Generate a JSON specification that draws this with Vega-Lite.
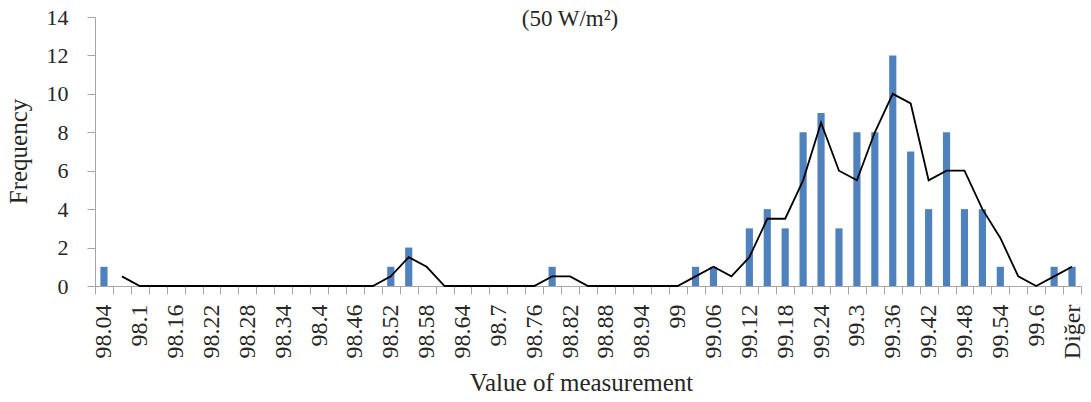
{
  "$schema": "https://vega.github.io/schema/vega-lite/v6.json",
  "width": 986,
  "height": 269,
  "autosize": {"type": "none"},
  "padding": {"left": 95, "top": 17, "right": 10, "bottom": 116},
  "background": "white",
  "config": {
    "view": {"stroke": null},
    "font": "Liberation Serif",
    "axis": {"labelFont": "Liberation Serif", "titleFont": "Liberation Serif", "labelColor": "#262626", "titleColor": "#262626", "titleFontWeight": "normal", "domainColor": "#A6A6A6", "tickColor": "#A6A6A6", "grid": false, "labelOverlap": false}
  },
  "title": {
    "text": "(50 W/m²)",
    "font": "Liberation Serif",
    "fontSize": 23,
    "fontWeight": "normal",
    "color": "#262626",
    "anchor": "middle",
    "frame": "group",
    "dx": -18,
    "offset": -25
  },
  "data": {
    "values": [
      {"c": "98.04", "f": 1, "ma": null},
      {"c": "98.07", "f": 0, "ma": 0.5},
      {"c": "98.1", "f": 0, "ma": 0},
      {"c": "98.13", "f": 0, "ma": 0},
      {"c": "98.16", "f": 0, "ma": 0},
      {"c": "98.19", "f": 0, "ma": 0},
      {"c": "98.22", "f": 0, "ma": 0},
      {"c": "98.25", "f": 0, "ma": 0},
      {"c": "98.28", "f": 0, "ma": 0},
      {"c": "98.31", "f": 0, "ma": 0},
      {"c": "98.34", "f": 0, "ma": 0},
      {"c": "98.37", "f": 0, "ma": 0},
      {"c": "98.4", "f": 0, "ma": 0},
      {"c": "98.43", "f": 0, "ma": 0},
      {"c": "98.46", "f": 0, "ma": 0},
      {"c": "98.49", "f": 0, "ma": 0},
      {"c": "98.52", "f": 1, "ma": 0.5},
      {"c": "98.55", "f": 2, "ma": 1.5},
      {"c": "98.58", "f": 0, "ma": 1},
      {"c": "98.61", "f": 0, "ma": 0},
      {"c": "98.64", "f": 0, "ma": 0},
      {"c": "98.67", "f": 0, "ma": 0},
      {"c": "98.7", "f": 0, "ma": 0},
      {"c": "98.73", "f": 0, "ma": 0},
      {"c": "98.76", "f": 0, "ma": 0},
      {"c": "98.79", "f": 1, "ma": 0.5},
      {"c": "98.82", "f": 0, "ma": 0.5},
      {"c": "98.85", "f": 0, "ma": 0},
      {"c": "98.88", "f": 0, "ma": 0},
      {"c": "98.91", "f": 0, "ma": 0},
      {"c": "98.94", "f": 0, "ma": 0},
      {"c": "98.97", "f": 0, "ma": 0},
      {"c": "99", "f": 0, "ma": 0},
      {"c": "99.03", "f": 1, "ma": 0.5},
      {"c": "99.06", "f": 1, "ma": 1},
      {"c": "99.09", "f": 0, "ma": 0.5},
      {"c": "99.12", "f": 3, "ma": 1.5},
      {"c": "99.15", "f": 4, "ma": 3.5},
      {"c": "99.18", "f": 3, "ma": 3.5},
      {"c": "99.21", "f": 8, "ma": 5.5},
      {"c": "99.24", "f": 9, "ma": 8.5},
      {"c": "99.27", "f": 3, "ma": 6},
      {"c": "99.3", "f": 8, "ma": 5.5},
      {"c": "99.33", "f": 8, "ma": 8},
      {"c": "99.36", "f": 12, "ma": 10},
      {"c": "99.39", "f": 7, "ma": 9.5},
      {"c": "99.42", "f": 4, "ma": 5.5},
      {"c": "99.45", "f": 8, "ma": 6},
      {"c": "99.48", "f": 4, "ma": 6},
      {"c": "99.51", "f": 4, "ma": 4},
      {"c": "99.54", "f": 1, "ma": 2.5},
      {"c": "99.57", "f": 0, "ma": 0.5},
      {"c": "99.6", "f": 0, "ma": 0},
      {"c": "99.63", "f": 1, "ma": 0.5},
      {"c": "Diğer", "f": 1, "ma": 1}
    ]
  },
  "encoding": {
    "x": {
      "field": "c",
      "type": "nominal",
      "sort": null,
      "scale": {"paddingInner": 0, "paddingOuter": 0},
      "axis": {
        "title": "Value of measurement",
        "titleFontSize": 25,
        "titleX": 486,
        "titleY": 104,
        "titleBaseline": "alphabetic",
        "labelFontSize": 24,
        "labelAngle": -90,
        "labelAlign": "right",
        "labelBaseline": "middle",
        "labelPadding": 10,
        "tickBand": "extent",
        "tickSize": 8,
        "labelExpr": "datum.value == 'Diğer' || round((toNumber(datum.value) - 98.04) / 0.03) % 2 == 0 ? datum.value : ''"
      }
    }
  },
  "layer": [
    {
      "mark": {"type": "bar", "color": "#4F81BD", "width": {"band": 0.4}},
      "encoding": {
        "y": {
          "field": "f",
          "type": "quantitative",
          "scale": {"domain": [0, 14], "nice": false},
          "axis": {
            "title": "Frequency",
            "titleFontSize": 25,
            "titleX": -77,
            "titleY": 134,
            "titleAngle": -90,
            "titleBaseline": "middle",
            "values": [0, 2, 4, 6, 8, 10, 12, 14],
            "labelFontSize": 22,
            "labelFlush": false,
            "labelBound": false,
            "tickSize": 8,
            "labelPadding": 19
          }
        }
      }
    },
    {
      "mark": {"type": "line", "color": "black", "strokeWidth": 1.8},
      "encoding": {
        "y": {
          "field": "ma",
          "type": "quantitative",
          "scale": {"domain": [0, 14], "nice": false},
          "axis": {
            "title": "Frequency",
            "titleFontSize": 25,
            "titleX": -77,
            "titleY": 134,
            "titleAngle": -90,
            "titleBaseline": "middle",
            "values": [0, 2, 4, 6, 8, 10, 12, 14],
            "labelFontSize": 22,
            "labelFlush": false,
            "labelBound": false,
            "tickSize": 8,
            "labelPadding": 19
          }
        }
      }
    }
  ]
}
